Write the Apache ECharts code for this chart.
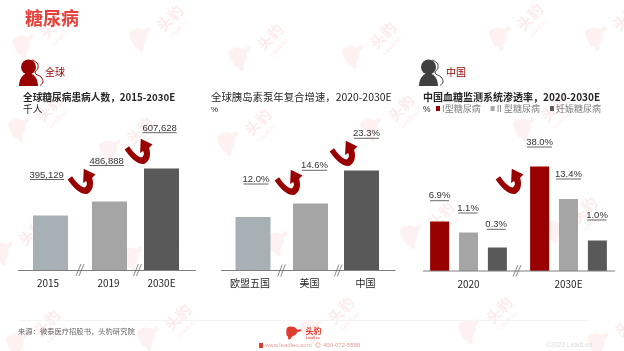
<!DOCTYPE html>
<html>
<head>
<meta charset="utf-8">
<title>糖尿病</title>
<script src="https://cdn.jsdelivr.net/npm/echarts@6/dist/echarts.min.js"></script>
<style>
  html, body { margin: 0; padding: 0; background: #fff; }
  #chart { width: 624px; height: 351px; }
</style>
</head>
<body>
<div id="chart"></div>
<script>
// bars in the source are schematic, not to scale with their labels, so heights are read off the picture
const globalCategories = ['2015', '2019', '2030E'];
const globalHeights = [55, 69, 102];
const globalLabels = ['395,129', '486,888', '607,628'];

const pumpCategories = ['欧盟五国', '美国', '中国'];
const pumpHeights = [53.5, 67, 100];
const pumpLabels = ['12.0%', '14.6%', '23.3%'];

const cgmCategories = ['2020', '2030E'];
const cgmSeriesNames = ['I型糖尿病', 'II 型糖尿病', '妊娠糖尿病'];
const cgmType1 = [49.5, 104.5];
const cgmType2 = [38.5, 72];
const cgmGestational = [23.5, 30.5];
const cgmLabels = ['6.9%', '1.1%', '0.3%', '38.0%', '13.4%', '1.0%'];

const FONT = '"Liberation Sans", "Noto Sans CJK SC", sans-serif';
const CJK = '"Noto Sans CJK SC", "Liberation Sans", sans-serif';
const RED = '#990000';
const BAR_COLORS = ['#a7b0b4', '#a5a5a5', '#595959'];
const AXIS_COLOR = '#7f7f7f';
const WATERMARK = 'rgba(228,60,48,0.065)';
const WATERMARK_TEXT = 'rgba(228,60,48,0.1)';

// graphic component has no plain path type, so the icons are registered as shapes
echarts.graphic.registerShape('leo', echarts.graphic.extendPath('M30 4 C20 0 8 6 4 18 C0 30 4 38 2 52 C0 66 6 72 14 76 C10 84 12 92 18 96 L30 92 C30 84 34 78 44 72 C56 68 66 56 70 44 L92 38 L96 24 L70 26 C62 12 48 4 30 4 Z', {}));
echarts.graphic.registerShape('growthArrow', echarts.graphic.extendPath('M50 2 L85 20 L75 30 C81 52 77 72 60 80 C40 82 18 60 2 35 L15 25 C25 40 38 56 52 60 C60 56 61 48 57 40 L48 46 Z', {}));
echarts.graphic.registerShape('shoulders', echarts.graphic.extendPath('M0 13 C0 5 5 0 9.5 0 C14 0 19 5 19 13 Z', {}));

const grids = [];
const xAxes = [];
const yAxes = [];
const series = [];

// each bar of the first two panels gets its own little grid, the source spaces them unevenly
function addSingleBar(cx, cat, height, color, bottom, labelPad) {
  const i = grids.length;
  grids.push({ left: cx - 25, width: 50, top: bottom - 110, height: 110 });
  xAxes.push({
    gridIndex: i,
    type: 'category',
    data: [cat],
    axisLine: { show: false },
    axisTick: { show: false },
    axisLabel: { color: '#262626', fontSize: 10, fontFamily: CJK, margin: 8, padding: labelPad, interval: 0 },
  });
  yAxes.push({ gridIndex: i, type: 'value', min: 0, max: 110, show: false });
  series.push({
    type: 'bar',
    xAxisIndex: i,
    yAxisIndex: i,
    barWidth: 35,
    itemStyle: { color },
    data: [height],
    silent: true,
  });
}

const globalCx = [50.5, 109.5, 161.5];
const globalPads = [[0, 5, 0, 0], [0, 2, 0, 0], [0, 0, 0, 0]];
globalCategories.forEach((c, i) => addSingleBar(globalCx[i], c, globalHeights[i], BAR_COLORS[i], 270.5, globalPads[i]));

const pumpCx = [253, 310.5, 361.5];
const pumpPads = [[0, 6, 0, 0], [0, 2, 0, 0], [0, 0, 0, 8]];
pumpCategories.forEach((c, i) => addSingleBar(pumpCx[i], c, pumpHeights[i], BAR_COLORS[i], 270.5, pumpPads[i]));

// third panel is a normal grouped bar chart
const cgmGrid = grids.length;
grids.push({ left: 418.5, width: 200, top: 161, height: 110 });
xAxes.push({
  gridIndex: cgmGrid,
  type: 'category',
  data: cgmCategories,
  axisLine: { show: false },
  axisTick: { show: false },
  axisLabel: { color: '#262626', fontSize: 10, fontFamily: CJK, margin: 8 },
});
yAxes.push({ gridIndex: cgmGrid, type: 'value', min: 0, max: 110, show: false });
[cgmType1, cgmType2, cgmGestational].forEach((d, i) => {
  series.push({
    name: cgmSeriesNames[i],
    type: 'bar',
    xAxisIndex: cgmGrid,
    yAxisIndex: cgmGrid,
    barWidth: 19,
    barGap: '52%',
    itemStyle: { color: [RED, '#a5a5a5', '#595959'][i] },
    data: d,
    silent: true,
  });
});

const g = [];

function addText(text, x, y, opt) {
  g.push({
    type: 'text',
    x, y,
    z: 100,
    silent: true,
    style: Object.assign({
      text,
      fontFamily: CJK,
      fontSize: 10,
      fill: '#262626',
      textAlign: 'left',
      textVerticalAlign: 'middle',
    }, opt),
  });
}

function addLine(x1, y1, x2, y2, color, width) {
  g.push({
    type: 'line',
    z: 90,
    silent: true,
    shape: { x1, y1, x2, y2 },
    style: { stroke: color, lineWidth: width || 1 },
  });
}

// nw, nh: size the shape was drawn at in its path data
function addShape(type, cx, cy, w, h, nw, nh, fill, z, rotation) {
  g.push({
    type,
    z,
    silent: true,
    x: cx - nw / 2,
    y: cy - nh / 2,
    originX: nw / 2,
    originY: nh / 2,
    scaleX: w / nw,
    scaleY: h / nh,
    rotation: rotation || 0,
    style: { fill },
  });
}

// watermarks
const watermarkSpots = [
  [26, 45], [143, 38], [243, 57], [356, 55], [503, 37], [599, 37],
  [22, 128], [113, 150], [231, 142], [374, 128], [527, 128],
  [5, 252], [135, 257], [280, 242], [414, 235], [557, 230],
  [20, 343], [151, 337], [314, 330], [472, 330], [601, 343],
];
watermarkSpots.forEach(([x, y]) => {
  addShape('leo', x, y, 24, 26, 100, 100, WATERMARK, -10, 0.5);
  g.push({
    type: 'text', x: x + 27, y: y - 20, rotation: Math.PI / 4, z: -10, silent: true,
    style: { text: '头豹', fontFamily: CJK, fontWeight: 'bold', fontSize: 15, fill: WATERMARK_TEXT, textAlign: 'center', textVerticalAlign: 'middle' },
  });
  g.push({
    type: 'text', x: x + 36, y: y - 9, rotation: Math.PI / 4, z: -10, silent: true,
    style: { text: 'LeadLeo', fontFamily: FONT, fontSize: 6, fill: WATERMARK_TEXT, textAlign: 'center', textVerticalAlign: 'middle' },
  });
});

// headers
addText('糖尿病', 25, 18, { fontSize: 18, fontWeight: 'bold', fill: '#e5403a' });

function addPerson(x, color) {
  g.push({ type: 'circle', z: 90, silent: true, shape: { cx: x + 9.5, cy: 67, r: 7.5 }, style: { fill: color } });
  addShape('shoulders', x + 9.5, 79.5, 19, 13, 19, 13, color, 90);
  g.push({
    type: 'polyline', z: 90, silent: true,
    shape: { points: [[x + 13, 60], [x + 18, 63], [x + 19, 68], [x + 16, 73], [x + 22, 77], [x + 24, 82], [x + 21, 85.5]], smooth: 0.4 },
    style: { stroke: color, lineWidth: 1, fill: null },
  });
}
addPerson(19, RED);
addPerson(419, '#404040');
addText('全球', 45, 72, { fill: RED });
addText('中国', 446, 72, { fill: RED });

addText('全球糖尿病患病人数，2015-2030E', 23, 97, { fontSize: 9.7, fontWeight: 'bold' });
addText('千人', 23, 109.5, { fontSize: 9.7 });
addText('全球胰岛素泵年复合增速，2020-2030E', 211, 97, { fontSize: 10.4 });
addText('%', 211, 109.5, { fontSize: 8, fontFamily: FONT });
addText('中国血糖监测系统渗透率，2020-2030E', 423, 97, { fontSize: 10, fontWeight: 'bold' });
addText('%', 423, 109.5, { fontSize: 8.5, fontFamily: FONT });

// baselines and axis breaks
addLine(18, 270.5, 196, 270.5, AXIS_COLOR);
addLine(221, 270.5, 395.5, 270.5, AXIS_COLOR);
addLine(423, 271, 615, 271, AXIS_COLOR);
[[76, 276, 81, 264], [133.5, 276, 138.5, 264], [277.7, 276.5, 282.3, 264.5], [334.3, 276.5, 339, 264.5], [513, 276.5, 518, 265]].forEach(([x1, y1, x2, y2]) => {
  addLine(x1, y1, x2, y2, '#595959', 0.7);
  addLine(x1 + 3, y1, x2 + 3, y2, '#595959', 0.7);
});

// value labels sit away from the bars, underlined
function addValueLabel(text, cx, cy, lineY, x1, x2) {
  addText(text, cx, cy, { fontFamily: FONT, fontSize: 9.5, textAlign: 'center', fill: '#333333' });
  addLine(x1, lineY, x2, lineY, '#404040', 0.8);
}
addValueLabel(globalLabels[0], 46.6, 175, 179.5, 30, 64);
addValueLabel(globalLabels[1], 106.6, 161, 165.5, 89.5, 124);
addValueLabel(globalLabels[2], 159.6, 128, 132.7, 142.5, 176.7);
addValueLabel(pumpLabels[0], 256, 179.3, 184, 243.5, 268.6);
addValueLabel(pumpLabels[1], 314.4, 165.3, 170.3, 302, 327);
addValueLabel(pumpLabels[2], 366.5, 133.3, 138.3, 354, 379);
addValueLabel(cgmLabels[0], 439.5, 195.7, 200.7, 430, 449);
addValueLabel(cgmLabels[1], 468, 208, 213, 458.4, 477.5);
addValueLabel(cgmLabels[2], 496.2, 224, 229.3, 486.7, 505.8);
addValueLabel(cgmLabels[3], 539.6, 142.3, 147, 527, 552);
addValueLabel(cgmLabels[4], 568.5, 174, 179, 556, 581);
addValueLabel(cgmLabels[5], 597, 215, 220, 587, 606.5);

// growth arrows
[[67, 168], [124, 138], [274, 169], [329, 140], [495, 168]].forEach(([x, y]) => {
  addShape('growthArrow', x + 14.25, y + 13, 28.5, 26, 85, 80, RED, 95);
});

// footer
addLine(18, 320.5, 590, 320.5, '#f4f4f4');
addText('来源：微泰医疗招股书，头豹研究院', 18, 331.5, { fontSize: 7.3, fill: '#666666' });
addShape('leo', 294, 333, 16, 14, 100, 100, '#e03c31', 95);
addText('头豹', 305.5, 331, { fontSize: 8, fontWeight: 'bold', fill: '#e03c31' });
addText('LeadLeo', 306, 338, { fontFamily: FONT, fontSize: 3.5, fill: '#e03c31' });
addText('www.leadleo.com', 265, 345.3, { fontFamily: FONT, fontSize: 6, fill: '#e8a09a' });
addText('400-072-5588', 323, 345.3, { fontFamily: FONT, fontSize: 6, fill: '#e8a09a' });
g.push({ type: 'rect', z: 95, silent: true, shape: { x: 259, y: 343, width: 4, height: 5 }, style: { fill: '#e03c31' } });
g.push({ type: 'circle', z: 95, silent: true, shape: { cx: 318, cy: 345, r: 2.2 }, style: { fill: null, stroke: '#e8a09a', lineWidth: 0.8 } });
addText('©2022 LeadLeo', 546, 345, { fontFamily: FONT, fontSize: 6.5, fill: '#dddddd' });

const chart = echarts.init(document.getElementById('chart'), null, { renderer: 'canvas' });
chart.setOption({
  animation: false,
  backgroundColor: '#fff',
  textStyle: { fontFamily: CJK },
  legend: {
    left: 436,
    top: 104,
    padding: 0,
    itemWidth: 4,
    itemHeight: 5,
    itemGap: 10,
    icon: 'rect',
    selectedMode: false,
    data: cgmSeriesNames,
    textStyle: { fontSize: 9, color: '#7f7f7f', fontFamily: CJK, padding: [0, 0, 0, -3] },
  },
  grid: grids,
  xAxis: xAxes,
  yAxis: yAxes,
  series,
  graphic: { elements: g },
});
</script>
</body>
</html>
